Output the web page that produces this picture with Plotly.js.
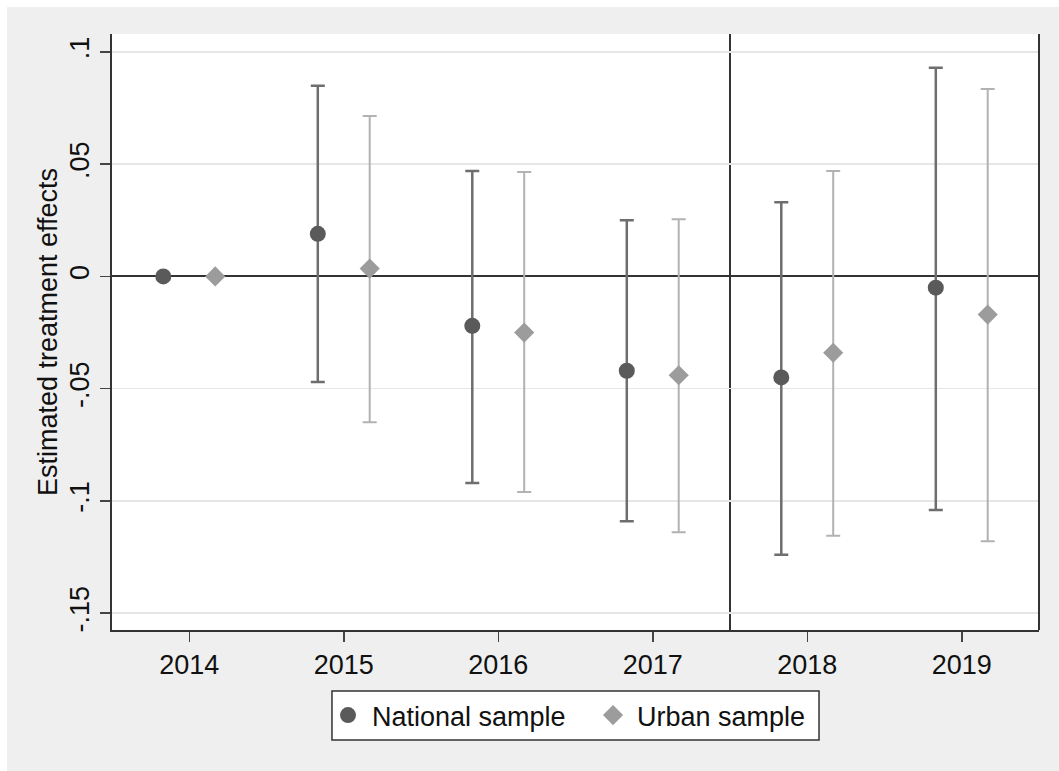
<!DOCTYPE html>
<html>
<head>
<meta charset="utf-8">
<script src="https://cdn.plot.ly/plotly-3.0.1.min.js"></script>
<style>
  html, body { margin: 0; padding: 0; background: #ffffff; width: 1059px; height: 771px; overflow: hidden; }
  #chart { position: absolute; left: 7px; top: 7px; width: 1052px; height: 764px; }
</style>
</head>
<body>
<div id="chart"></div>
<script>
// ---- Data ----
const years = [2014, 2015, 2016, 2017, 2018, 2019];
const xTickLabels = ['2014', '2015', '2016', '2017', '2018', '2019'];

const nationalEst = [0, 0.019, -0.022, -0.042, -0.045, -0.005];
const nationalLo  = [null, -0.047, -0.092, -0.109, -0.124, -0.104];
const nationalHi  = [null, 0.085, 0.047, 0.025, 0.033, 0.093];

const urbanEst = [0, 0.0035, -0.025, -0.044, -0.034, -0.017];
const urbanLo  = [null, -0.065, -0.096, -0.114, -0.1155, -0.118];
const urbanHi  = [null, 0.0715, 0.0465, 0.0255, 0.047, 0.0835];

const yTickVals = [-0.15, -0.1, -0.05, 0, 0.05, 0.1];
const yTickLabels = ['-.15', '-.1', '-.05', '0', '.05', '.1'];

const seriesNames = ['National sample', 'Urban sample'];
const yTitle = 'Estimated treatment effects';
const policyBreak = 2017.5;

// ---- Build traces ----
const dodge = 0.168;
function plusErr(est, hi) { return est.map((v, i) => hi[i] == null ? NaN : hi[i] - v); }
function minusErr(est, lo) { return est.map((v, i) => lo[i] == null ? NaN : v - lo[i]); }

const FONT = 'Liberation Sans, Arial, sans-serif';

const national = {
  type: 'scatter', mode: 'markers', name: seriesNames[0], legend: 'legend',
  x: years.map(y => y - dodge), y: nationalEst,
  marker: { symbol: 'circle', size: 16, color: '#5a5a5a', line: { width: 0 } },
  error_y: { type: 'data', symmetric: false,
    array: plusErr(nationalEst, nationalHi), arrayminus: minusErr(nationalEst, nationalLo),
    color: '#6e6e6e', thickness: 2.5, width: 7 },
  cliponaxis: false
};
const urban = {
  type: 'scatter', mode: 'markers', name: seriesNames[1], legend: 'legend2',
  x: years.map(y => y + dodge), y: urbanEst,
  marker: { symbol: 'diamond', size: 15.5, color: '#9c9c9c', line: { width: 0 } },
  error_y: { type: 'data', symmetric: false,
    array: plusErr(urbanEst, urbanHi), arrayminus: minusErr(urbanEst, urbanLo),
    color: '#b2b2b2', thickness: 2, width: 7 },
  cliponaxis: false
};

const legendStyle = {
  orientation: 'h', xanchor: 'left', yanchor: 'middle', y: -0.1435,
  bgcolor: 'rgba(0,0,0,0)', borderwidth: 0,
  font: { family: FONT, size: 27, color: '#111111' },
  itemwidth: 38
};

const layout = {
  width: 1052, height: 764,
  margin: { l: 105, r: 20, t: 27, b: 141, pad: 0 },
  paper_bgcolor: '#efefef',
  plot_bgcolor: '#ffffff',
  font: { family: FONT, size: 27, color: '#111111' },
  showlegend: true,
  legend: Object.assign({}, legendStyle, { x: 0.2287 }),
  legend2: Object.assign({}, legendStyle, { x: 0.5146 }),
  xaxis: {
    range: [2013.5, 2019.5],
    tickmode: 'array', tickvals: years, ticktext: xTickLabels,
    showgrid: false, zeroline: false,
    showline: true, linecolor: '#333333', linewidth: 2,
    ticks: 'outside', ticklen: 10, tickwidth: 1.5, tickcolor: '#444444',
    ticklabelstandoff: 0,
    tickfont: { family: FONT, size: 27, color: '#111111' },
    fixedrange: true
  },
  yaxis: {
    range: [-0.1575, 0.108],
    tickmode: 'array', tickvals: yTickVals, ticktext: yTickLabels,
    tickangle: -90,
    showgrid: true, gridcolor: '#e6e6e6', gridwidth: 1.5,
    zeroline: true, zerolinecolor: '#333333', zerolinewidth: 2,
    showline: true, linecolor: '#333333', linewidth: 2,
    ticks: 'outside', ticklen: 10, tickwidth: 1.5, tickcolor: '#444444',
    tickfont: { family: FONT, size: 27, color: '#111111' },
    title: { text: yTitle, font: { family: FONT, size: 27, color: '#111111' }, standoff: 0 },
    fixedrange: true
  },
  shapes: [
    { type: 'line', xref: 'x', yref: 'paper', x0: policyBreak, x1: policyBreak, y0: 0, y1: 1,
      line: { color: '#333333', width: 2 }, layer: 'below' },
    { type: 'line', xref: 'paper', yref: 'paper', x0: 1, x1: 1, y0: 0, y1: 1,
      line: { color: '#333333', width: 2 }, layer: 'above' },
    // legend frame
    { type: 'rect', xref: 'paper', yref: 'paper', x0: 0.2373, x1: 0.7627, y0: -0.1846, y1: -0.1023,
      fillcolor: '#ffffff', line: { color: '#333333', width: 1.5 }, layer: 'below' }
  ]
};

Plotly.newPlot('chart', [national, urban], layout, { displayModeBar: false, staticPlot: true });
</script>
</body>
</html>
